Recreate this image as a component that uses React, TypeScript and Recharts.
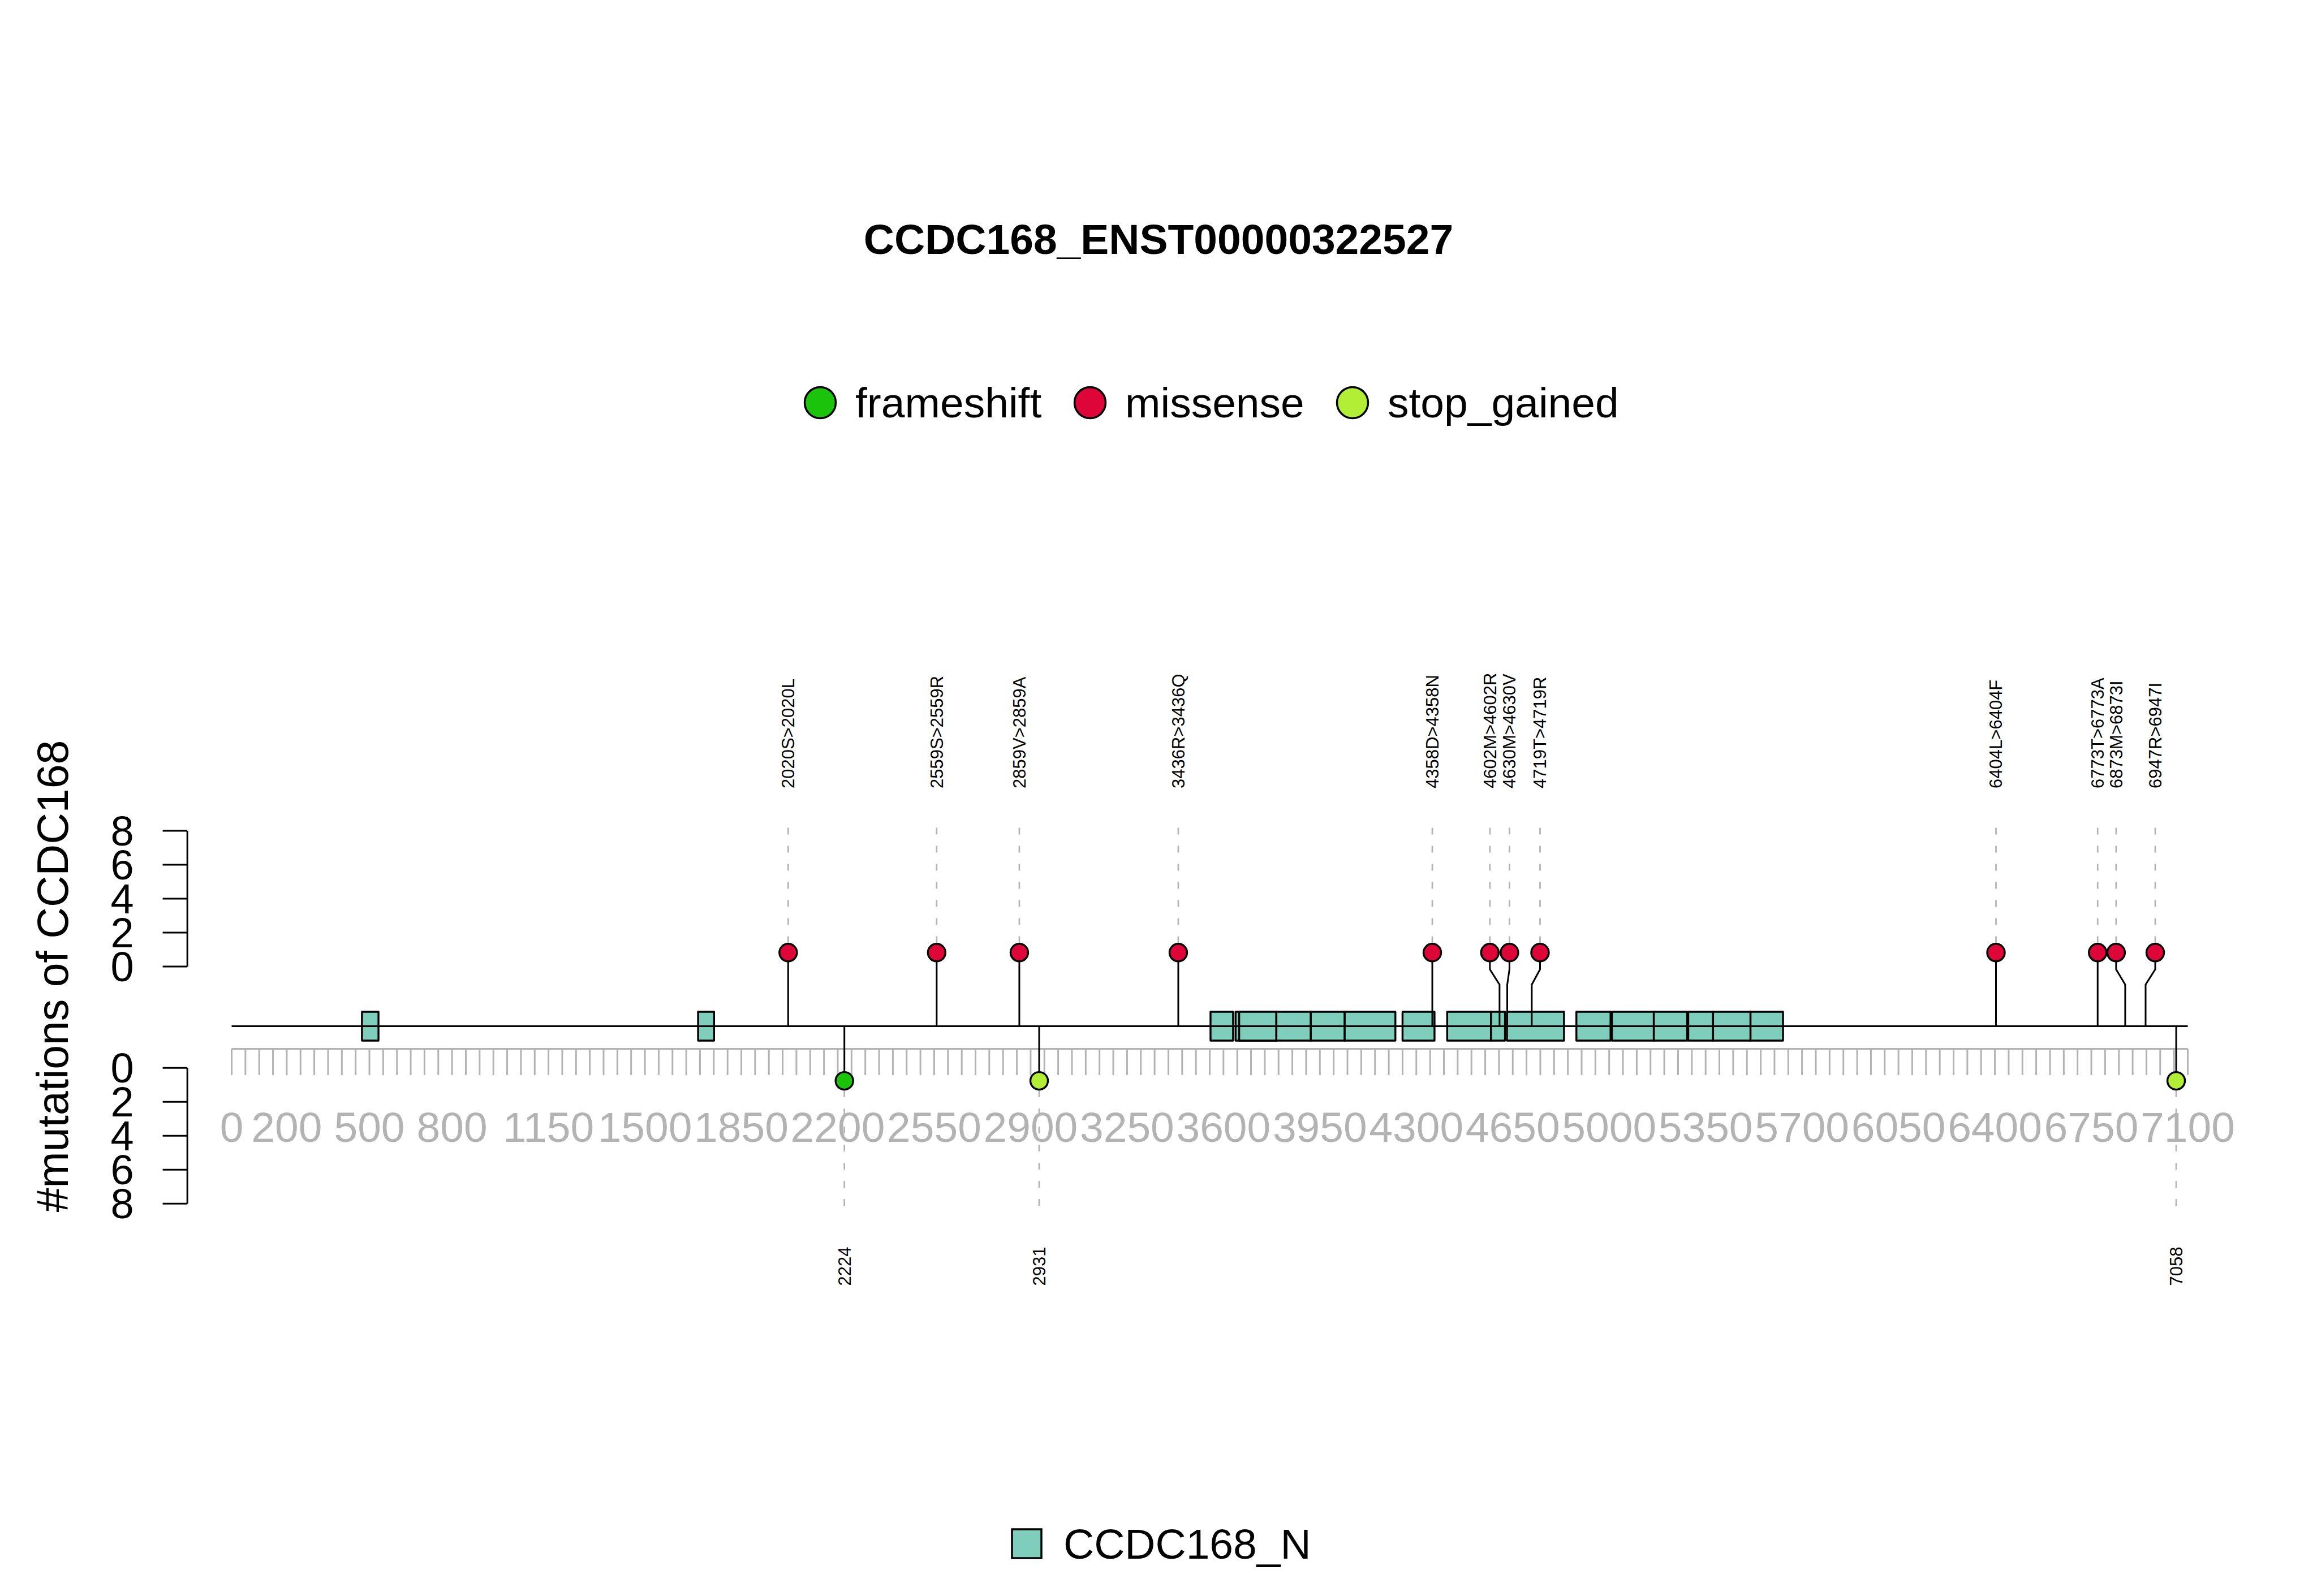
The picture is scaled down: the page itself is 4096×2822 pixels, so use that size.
import React from "react";
import {
  ComposedChart,
  XAxis,
  YAxis,
  Scatter,
  Line,
  ReferenceLine,
  ReferenceArea,
  ReferenceDot,
} from "recharts";

const FONT = "'Liberation Sans', Arial, Helvetica, sans-serif";
const GRAY = "#B3B3B3";
const DOMAIN_FILL = "#7FCDBB";

// mutations drawn above the backbone
const upperPos = [2020, 2559, 2859, 3436, 4358, 4602, 4630, 4719, 6404, 6773, 6873, 6947];
const upperHead = [2020, 2559, 2859, 3436, 4358, 4567, 4638, 4749, 6404, 6773, 6840, 6982];
const upperLabel = [
  "2020S>2020L", "2559S>2559R", "2859V>2859A", "3436R>3436Q", "4358D>4358N", "4602M>4602R",
  "4630M>4630V", "4719T>4719R", "6404L>6404F", "6773T>6773A", "6873M>6873I", "6947R>6947I",
];
const upperType = Array(12).fill("missense");
const upperCount = [1, 1, 1, 1, 1, 1, 1, 1, 1, 1, 1, 1];

// mutations drawn below the backbone
const lowerPos = [2224, 2931, 7058];
const lowerLabel = ["2224", "2931", "7058"];
const lowerType = ["frameshift", "stop_gained", "stop_gained"];
const lowerCount = [1, 1, 1];

// CCDC168_N domain boxes
const domainStart = [473, 1693, 3553, 3644, 3657, 3792, 3917, 4040, 4250, 4412, 4571, 4629, 4881, 5010, 5162, 5287, 5377, 5513];
const domainEnd = [533, 1751, 3635, 3792, 3792, 3917, 4040, 4224, 4366, 4571, 4622, 4836, 5005, 5162, 5283, 5377, 5513, 5631];
const domainName = "CCDC168_N";

const proteinLength = 7100;
const rulerLabels = [0, 200, 500, 800, 1150, 1500, 1850, 2200, 2550, 2900, 3250, 3600, 3950, 4300, 4650, 5000, 5350, 5700, 6050, 6400, 6750, 7100];
const rulerMinor = Array.from({ length: proteinLength / 50 + 1 }, (_, i) => i * 50);
const countTicks = [0, 2, 4, 6, 8];

const typeNames = ["frameshift", "missense", "stop_gained"];
const typeColors = ["#1CC30B", "#DE0538", "#B3EE36"];

// vertical levels (track units, backbone = 0)
const HEAD_UP = 4.34;
const JOG_LOW = 2.45;
const JOG_HIGH = 3.35;
const DASH_UP_TOP = 11.89;
const LABEL_UP = 14.02;
const HEAD_DOWN = -3.22;
const DASH_DOWN_END = -10.78;
const LABEL_DOWN = -13.0;
const RULER_Y = -1.337;
const RULER_LABEL_Y = -5.95;
const UP_AXIS_ZERO = 3.517;
const DOWN_AXIS_ZERO = -2.46;
const AXIS_X = -160.8;
const AXIS_TICK_X = -250.3;
const AXIS_LABEL_X = -355;

const headR = 15.5;

const upHeads = upperPos.map((p, i) => ({
  x: upperHead[i],
  y: HEAD_UP + (upperCount[i] - 1),
  type: upperType[i],
  label: upperLabel[i],
}));
const downHeads = lowerPos.map((p, i) => ({
  x: p,
  y: HEAD_DOWN - (lowerCount[i] - 1),
  type: lowerType[i],
  label: lowerLabel[i],
}));

const colorOf = (t: string) => typeColors[typeNames.indexOf(t)];

const HeadShape = (props: any) => (
  <circle cx={props.cx} cy={props.cy} r={headR} fill={colorOf(props.payload.type)} stroke="#000" strokeWidth={3.4} />
);

const UpLabelShape = (props: any) => (
  <text
    x={props.cx}
    y={props.cy}
    transform={`rotate(-90 ${props.cx} ${props.cy})`}
    dy="0.35em"
    fontSize={31}
    fontFamily={FONT}
    textAnchor="start"
    fill="#000"
  >
    {props.payload.label}
  </text>
);

const DownLabelShape = (props: any) => (
  <text
    x={props.cx}
    y={props.cy}
    transform={`rotate(-90 ${props.cx} ${props.cy})`}
    dy="0.35em"
    fontSize={31}
    fontFamily={FONT}
    textAnchor="end"
    fill="#000"
  >
    {props.payload.label}
  </text>
);

const RulerTick = (props: any) => (
  <line x1={props.cx} x2={props.cx} y1={props.cy} y2={props.cy + 46.4} stroke={GRAY} strokeWidth={3} />
);

const RulerText = (props: any) => (
  <text x={props.cx} y={props.cy} dy="0.35em" textAnchor="middle" fontSize={75} fontFamily={FONT} fill={GRAY}>
    {props.payload.label}
  </text>
);

const legendX = [1450, 1927, 2391];
const legendY = 712;

export default function App() {
  return (
    <div style={{ position: "absolute", left: 0, top: 0, width: 4096, height: 2822, background: "#fff" }}>
      <ComposedChart
        width={4096}
        height={2822}
        margin={{ top: 1094.5, right: 228.5, bottom: 287.5, left: 409.5 }}
      >
        <XAxis type="number" dataKey="x" domain={[0, proteinLength]} hide />
        <YAxis type="number" dataKey="y" domain={[-24, 24]} hide />

        {/* backbone */}
        <ReferenceLine segment={[{ x: 0, y: 0 }, { x: proteinLength, y: 0 }]} stroke="#000" strokeWidth={3} />

        {/* position ruler */}
        <ReferenceLine
          segment={[{ x: 0, y: RULER_Y }, { x: proteinLength, y: RULER_Y }]}
          stroke={GRAY}
          strokeWidth={3.2}
        />
        <Scatter
          data={rulerMinor.map((v) => ({ x: v, y: RULER_Y }))}
          shape={<RulerTick />}
          isAnimationActive={false}
        />
        <Scatter
          data={rulerLabels.map((v) => ({ x: v, y: RULER_LABEL_Y, label: String(v) }))}
          shape={<RulerText />}
          isAnimationActive={false}
        />

        {/* dashed guides */}
        {upHeads.map((h, i) => (
          <ReferenceLine
            key={"du" + i}
            segment={[{ x: h.x, y: h.y + 0.56 }, { x: h.x, y: DASH_UP_TOP }]}
            stroke={GRAY}
            strokeWidth={2.7}
            strokeDasharray="12 20"
          />
        ))}
        {downHeads.map((h, i) => (
          <ReferenceLine
            key={"dd" + i}
            segment={[{ x: h.x, y: h.y - 0.56 }, { x: h.x, y: DASH_DOWN_END }]}
            stroke={GRAY}
            strokeWidth={2.7}
            strokeDasharray="12 20"
          />
        ))}

        {/* domains */}
        {domainStart.map((s, i) => (
          <ReferenceArea
            key={"dom" + i}
            x1={s}
            x2={domainEnd[i]}
            y1={-0.85}
            y2={0.85}
            fill={DOMAIN_FILL}
            fillOpacity={1}
            stroke="#000"
            strokeWidth={3.4}
            strokeLinejoin="round"
          />
        ))}

        {/* stems */}
        {upperPos.map((p, i) => (
          <Line
            key={"su" + i}
            data={[
              { x: p, y: 0 },
              { x: p, y: JOG_LOW },
              { x: upHeads[i].x, y: JOG_HIGH },
              { x: upHeads[i].x, y: upHeads[i].y },
            ]}
            dataKey="y"
            type="linear"
            stroke="#000"
            strokeWidth={3}
            dot={false}
            activeDot={false}
            isAnimationActive={false}
          />
        ))}
        {lowerPos.map((p, i) => (
          <Line
            key={"sd" + i}
            data={[
              { x: p, y: 0 },
              { x: p, y: downHeads[i].y },
            ]}
            dataKey="y"
            type="linear"
            stroke="#000"
            strokeWidth={3}
            dot={false}
            activeDot={false}
            isAnimationActive={false}
          />
        ))}

        {/* lollipop heads */}
        <Scatter data={upHeads} shape={<HeadShape />} isAnimationActive={false} />
        <Scatter data={downHeads} shape={<HeadShape />} isAnimationActive={false} />

        {/* mutation labels */}
        <Scatter data={upHeads.map((h) => ({ ...h, y: LABEL_UP }))} shape={<UpLabelShape />} isAnimationActive={false} />
        <Scatter data={downHeads.map((h) => ({ ...h, y: LABEL_DOWN }))} shape={<DownLabelShape />} isAnimationActive={false} />

        {/* count axes */}
        {[UP_AXIS_ZERO, DOWN_AXIS_ZERO].map((z, k) => {
          const dir = k === 0 ? 1 : -1;
          return (
            <React.Fragment key={"ax" + k}>
              <ReferenceLine
                segment={[{ x: AXIS_X, y: z }, { x: AXIS_X, y: z + dir * countTicks[countTicks.length - 1] }]}
                stroke="#000"
                strokeWidth={3}
                ifOverflow="visible"
              />
              {countTicks.map((t) => (
                <React.Fragment key={"t" + k + t}>
                  <ReferenceLine
                    segment={[{ x: AXIS_TICK_X, y: z + dir * t }, { x: AXIS_X, y: z + dir * t }]}
                    stroke="#000"
                    strokeWidth={3}
                    ifOverflow="visible"
                  />
                  <ReferenceDot
                    x={AXIS_LABEL_X}
                    y={z + dir * t}
                    ifOverflow="visible"
                    shape={(p: any) => (
                      <text x={p.cx} y={p.cy} dy="0.35em" textAnchor="end" fontSize={74} fontFamily={FONT} fill="#000">
                        {t}
                      </text>
                    )}
                  />
                </React.Fragment>
              ))}
            </React.Fragment>
          );
        })}
      </ComposedChart>

      <svg
        width={4096}
        height={2822}
        style={{ position: "absolute", left: 0, top: 0, pointerEvents: "none" }}
        fontFamily={FONT}
      >
        <text x={2048} y={449} textAnchor="middle" fontSize={75} fontWeight="bold" fill="#000">
          CCDC168_ENST00000322527
        </text>
        {typeNames.map((t, i) => (
          <g key={t}>
            <circle cx={legendX[i]} cy={legendY} r={27.5} fill={typeColors[i]} stroke="#000" strokeWidth={3.5} />
            <text x={legendX[i] + 62} y={legendY} dy="0.35em" fontSize={75} fill="#000">
              {t}
            </text>
          </g>
        ))}
        <text
          x={93}
          y={1726}
          transform="rotate(-90 93 1726)"
          textAnchor="middle"
          dy="0.35em"
          fontSize={77}
          fill="#000"
        >
          #mutations of CCDC168
        </text>
        <rect x={1789} y={2704} width={52} height={51} fill={DOMAIN_FILL} stroke="#000" strokeWidth={3.5} />
        <text x={1880} y={2730} dy="0.35em" fontSize={75} fill="#000">
          {domainName}
        </text>
      </svg>
    </div>
  );
}
